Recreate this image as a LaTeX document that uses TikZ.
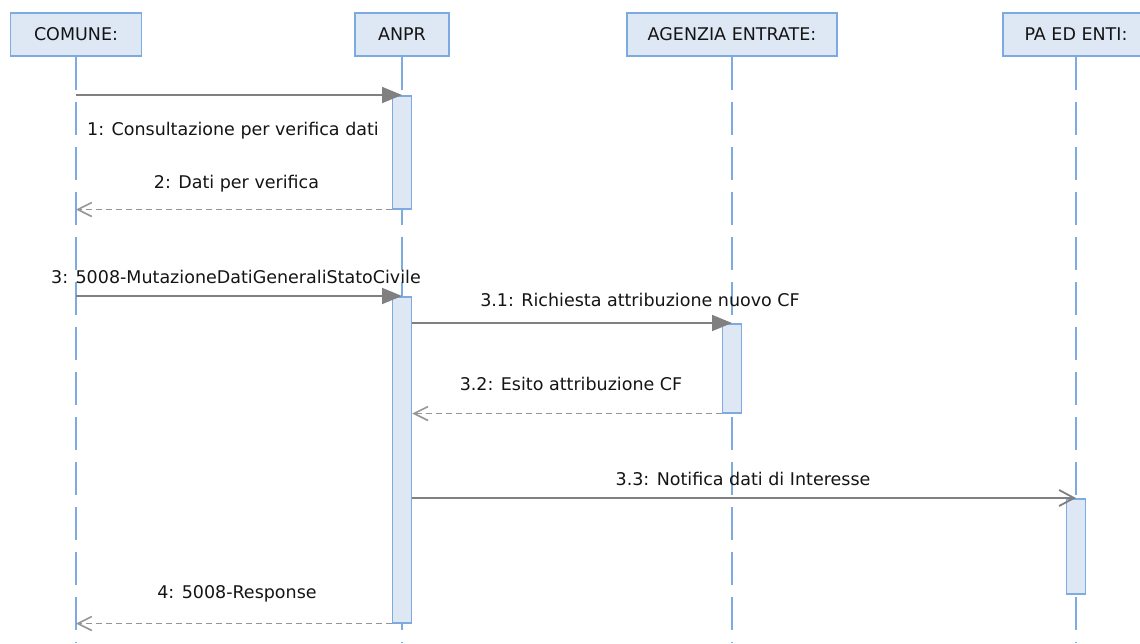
\documentclass[tikz,border=0pt]{standalone}
\usepackage{fontspec}
\setmainfont{DejaVu Sans}
\usetikzlibrary{arrows.meta}
\definecolor{boxfill}{RGB}{222,232,245}
\definecolor{boxline}{RGB}{125,170,225}
\definecolor{msg}{RGB}{128,128,128}
\definecolor{ret}{RGB}{150,150,150}
\definecolor{txt}{RGB}{20,20,20}
\begin{document}
\begin{tikzpicture}[x=1pt,y=-1pt,
  actor/.style={draw=boxline,fill=boxfill,line width=1.8pt,minimum height=43pt,inner sep=0pt,font=\fontsize{17.5}{20}\selectfont,text=txt},
  life/.style={draw=boxline,line width=1.8pt,dash pattern=on 33pt off 12pt},
  actbar/.style={draw=boxline,fill=boxfill,line width=1.5pt,minimum width=19pt,inner sep=0pt,anchor=north},
  call/.style={draw=msg,line width=1.8pt,-{Triangle[length=20pt,width=16pt]}},
  async/.style={draw=msg,line width=1.8pt,-{Straight Barb[length=15pt,width=16pt,line width=1.8pt]}},
  reply/.style={draw=ret,line width=1.5pt,dash pattern=on 6pt off 4pt,-{Straight Barb[length=14pt,width=14pt,line width=1.6pt]}},
  lbl/.style={anchor=base,inner sep=0pt,font=\fontsize{17.5}{20}\selectfont,text=txt}]
\useasboundingbox (0,0) rectangle (1140,643);
\clip (0,0) rectangle (1140,643);
% actors
\node[actor,minimum width=131pt] (comune) at (76,34.5) {COMUNE:};
\node[actor,minimum width=94pt] (anpr) at (402,34.5) {ANPR};
\node[actor,minimum width=210pt] (agenzia) at (732,34.5) {AGENZIA ENTRATE:};
\node[actor,minimum width=146pt] (pa) at (1076,34.5) {PA ED ENTI:};
% lifeline ends
\coordinate (comuneEnd) at (76,643);
\coordinate (anprEnd) at (402,643);
\coordinate (agenziaEnd) at (732,643);
\coordinate (paEnd) at (1076,643);
\draw[life] (comune.south) -- (comuneEnd);
\draw[life] (anpr.south) -- (anprEnd);
\draw[life] (agenzia.south) -- (agenziaEnd);
\draw[life] (pa.south) -- (paEnd);
% activation bars
\node[actbar,minimum height=113pt] (b1) at (402,95) {};
\node[actbar,minimum height=326pt] (b2) at (402,296) {};
\node[actbar,minimum height=89pt] (b3) at (732,323) {};
\node[actbar,minimum height=95pt] (b4) at (1076,498) {};
% messages
\draw[call] (comune.south |- b1.north) -- (b1.north);
\draw[reply] (b1.south west) -- (comune.south |- b1.south);
\draw[call] (comune.south |- b2.north) -- (b2.north);
\draw[call] (b2.east |- b3.north) -- (b3.north);
\draw[reply] (b3.south west) -- (b2.east |- b3.south);
\draw[async] (b2.east |- b4.north) -- (b4.north);
\draw[reply] (b2.south west) -- (comune.south |- b2.south);
% labels
\node[lbl] (l1) at (233,135) {1: Consultazione per verifica dati};
\node[lbl] (l2) at (236.5,188) {2: Dati per verifica};
\node[lbl] (l3) at (236,283) {3: 5008-MutazioneDatiGeneraliStatoCivile};
\node[lbl] (l31) at (640,306) {3.1: Richiesta attribuzione nuovo CF};
\node[lbl] (l32) at (571,390) {3.2: Esito attribuzione CF};
\node[lbl] (l33) at (743,485) {3.3: Notifica dati di Interesse};
\node[lbl] (l4) at (237,598) {4: 5008-Response};
\end{tikzpicture}
\end{document}
